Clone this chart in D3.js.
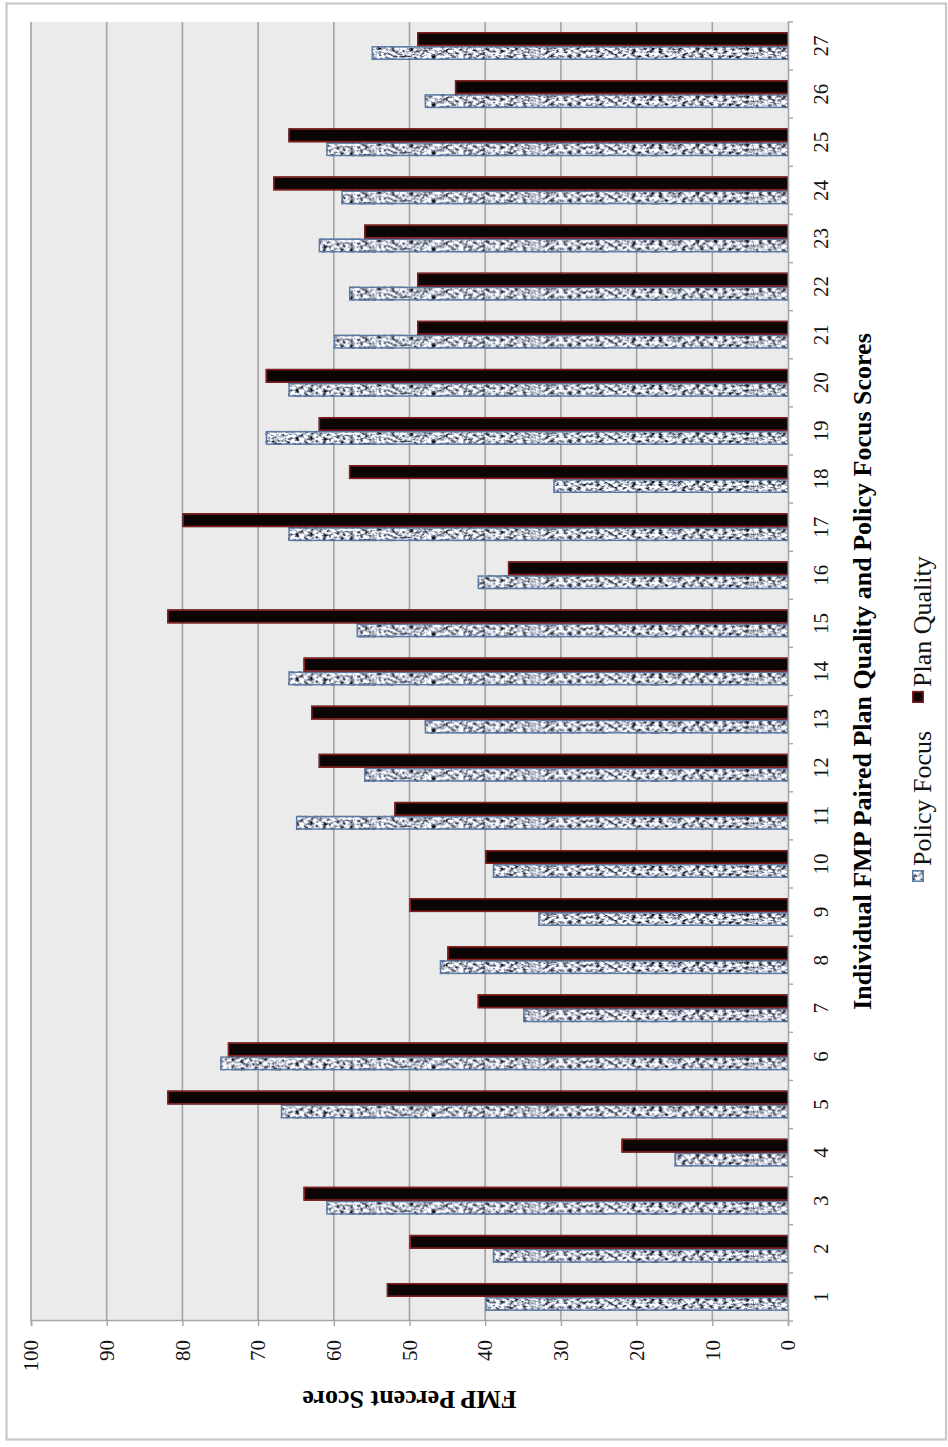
<!DOCTYPE html>
<html>
<head>
<meta charset="utf-8">
<script src="https://cdn.jsdelivr.net/npm/d3@7"></script>
<style>
  html, body { margin: 0; padding: 0; background: #ffffff; }
  svg { display: block; }
</style>
</head>
<body>
<svg id="chart" width="948" height="1447"></svg>
<script>
// FMP scores per paired plan (percent)
const categories = ["1","2","3","4","5","6","7","8","9","10","11","12","13","14","15","16","17","18","19","20","21","22","23","24","25","26","27"];
const policyFocus = [40, 39, 61, 15, 67, 75, 35, 46, 33, 39, 65, 56, 48, 66, 57, 41, 66, 31, 69, 66, 60, 58, 62, 59, 61, 48, 55];
const planQuality = [53, 50, 64, 22, 82, 74, 41, 45, 50, 40, 52, 62, 63, 64, 82, 37, 80, 58, 62, 69, 49, 49, 56, 68, 66, 44, 49];
const seriesNames = ["Policy Focus", "Plan Quality"];
const valueTicks = [0, 10, 20, 30, 40, 50, 60, 70, 80, 90, 100];
const xTitle = "Individual FMP Paired Plan Quality and Policy Focus Scores";
const yTitle = "FMP Percent Score";

const PAGE_W = 948, PAGE_H = 1447;
// The chart is laid out as an upright column chart (W x H) and then turned
// a quarter turn counter-clockwise onto the page.
const W = PAGE_H, H = PAGE_W;
const plot = { left: 126, right: 1425, top: 31, bottom: 788 };
const serif = "'Liberation Serif', 'Times New Roman', serif";

const svg = d3.select("#chart");
const defs = svg.append("defs");

// Mottled grey fill used by the Policy Focus bars
const speckle = defs.append("filter")
  .attr("id", "speckle")
  .attr("x", 0).attr("y", 0).attr("width", 1).attr("height", 1)
  .attr("color-interpolation-filters", "sRGB");
speckle.append("feTurbulence")
  .attr("type", "fractalNoise")
  .attr("baseFrequency", "0.38 0.22")
  .attr("numOctaves", 3)
  .attr("seed", 11)
  .attr("result", "noise");
speckle.append("feColorMatrix")
  .attr("in", "noise")
  .attr("type", "matrix")
  .attr("values", "2.5 0 0 0 -0.5  2.5 0 0 0 -0.48  2.5 0 0 0 -0.42  0 0 0 0 1")
  .attr("result", "grain");
speckle.append("feComposite")
  .attr("in", "grain").attr("in2", "SourceAlpha").attr("operator", "in");

const g = svg.append("g")
  .attr("transform", `translate(0,${PAGE_H}) rotate(-90)`);

// Outer frame
g.append("rect")
  .attr("x", 7.5).attr("y", 6.5)
  .attr("width", 1436).attr("height", 939.5)
  .attr("fill", "#ffffff")
  .attr("stroke", "#c8c8c8")
  .attr("stroke-width", 2.2);

const x0 = d3.scaleBand()
  .domain(categories)
  .range([plot.left, plot.right])
  .paddingInner(0.42)
  .paddingOuter(0.21);
const x1 = d3.scaleBand()
  .domain(seriesNames)
  .range([0, x0.bandwidth()]);
const y = d3.scaleLinear().domain([0, 100]).range([plot.bottom, plot.top]);

// Plot background
g.append("rect")
  .attr("x", plot.left).attr("y", plot.top)
  .attr("width", plot.right - plot.left).attr("height", plot.bottom - plot.top)
  .attr("fill", "#ebebeb");

// Gridlines
g.append("g").selectAll("line")
  .data(valueTicks.filter(v => v > 0))
  .join("line")
  .attr("x1", plot.left).attr("x2", plot.right)
  .attr("y1", d => y(d)).attr("y2", d => y(d))
  .attr("stroke", "#a3a3a3")
  .attr("stroke-width", 1.6);

// Value axis
const yAxis = g.append("g")
  .attr("transform", `translate(${plot.left},0)`)
  .call(d3.axisLeft(y).tickValues(valueTicks).tickSize(5).tickPadding(14));
yAxis.select(".domain").attr("stroke", "#a6a6a6").attr("stroke-width", 1.6);
yAxis.selectAll(".tick line").attr("stroke", "#a6a6a6").attr("stroke-width", 1.4);
yAxis.selectAll(".tick text")
  .attr("font-family", serif).attr("font-size", 21).attr("fill", "#111");

// Bars
const seriesValues = [policyFocus, planQuality];
const rows = categories.map((c, i) => ({
  cat: c,
  bars: seriesNames.map((s, k) => ({ series: s, value: seriesValues[k][i] }))
}));

const groups = g.append("g").selectAll("g")
  .data(rows)
  .join("g")
  .attr("transform", d => `translate(${x0(d.cat)},0)`);

const bar = groups.selectAll("g")
  .data(d => d.bars)
  .join("g");

bar.append("rect")
  .attr("x", d => x1(d.series))
  .attr("y", d => y(d.value))
  .attr("width", x1.bandwidth())
  .attr("height", d => y(0) - y(d.value))
  .attr("fill", d => d.series === "Policy Focus" ? "#b4b8bf" : "#0b0505")
  .attr("filter", d => d.series === "Policy Focus" ? "url(#speckle)" : null);

bar.append("rect")
  .attr("x", d => x1(d.series) + 0.75)
  .attr("y", d => y(d.value) + 0.75)
  .attr("width", x1.bandwidth() - 1.5)
  .attr("height", d => y(0) - y(d.value) - 0.75)
  .attr("fill", "none")
  .attr("stroke", d => d.series === "Policy Focus" ? "#5b7ba3" : "#8a1f1f")
  .attr("stroke-width", 1.5);

// Category axis
const xAxis = g.append("g")
  .attr("transform", `translate(0,${plot.bottom})`)
  .call(d3.axisBottom(x0).tickSize(0).tickPadding(0));
xAxis.select(".domain").attr("stroke", "#a6a6a6").attr("stroke-width", 1.6);
xAxis.selectAll(".tick text")
  .attr("y", 40).attr("dy", 0)
  .attr("font-family", serif).attr("font-size", 21).attr("fill", "#111");

// Tick marks between categories
const step = x0.step();
const boundaries = categories.map(c => x0(c) - (step - x0.bandwidth()) / 2);
boundaries.push(plot.right);
g.append("g").selectAll("line")
  .data(boundaries)
  .join("line")
  .attr("x1", d => d).attr("x2", d => d)
  .attr("y1", plot.bottom).attr("y2", plot.bottom + 5)
  .attr("stroke", "#a6a6a6").attr("stroke-width", 1.4);

// Axis titles
g.append("text")
  .attr("x", (plot.left + plot.right) / 2)
  .attr("y", 871)
  .attr("text-anchor", "middle")
  .attr("font-family", serif).attr("font-size", 26).attr("font-weight", "bold")
  .attr("fill", "#000")
  .text(xTitle);

g.append("text")
  .attr("transform", `translate(56,${(plot.top + plot.bottom) / 2}) rotate(-90)`)
  .attr("text-anchor", "middle")
  .attr("font-family", serif).attr("font-size", 26).attr("font-weight", "bold")
  .attr("fill", "#000")
  .text(yTitle);

// Legend
const legend = g.append("g").attr("transform", "translate(565,912)");
let offset = 0;
seriesNames.forEach((s, k) => {
  const item = legend.append("g").attr("transform", `translate(${offset},0)`);
  item.append("rect")
    .attr("x", 0).attr("y", 0).attr("width", 12).attr("height", 12)
    .attr("fill", k === 0 ? "#b4b8bf" : "#0b0505")
    .attr("filter", k === 0 ? "url(#speckle)" : null);
  item.append("rect")
    .attr("x", 0.75).attr("y", 0.75).attr("width", 10.5).attr("height", 10.5)
    .attr("fill", "none")
    .attr("stroke", k === 0 ? "#5b7ba3" : "#8a1f1f")
    .attr("stroke-width", 1.5);
  const t = item.append("text")
    .attr("x", 16).attr("y", 19)
    .attr("font-family", serif).attr("font-size", 26).attr("fill", "#111")
    .text(s);
  offset += 16 + t.node().getComputedTextLength() + 28;
});
</script>
</body>
</html>
